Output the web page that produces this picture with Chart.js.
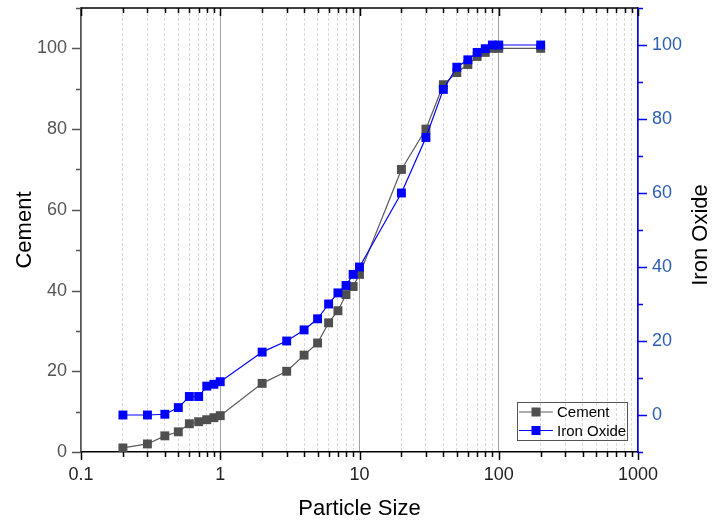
<!DOCTYPE html>
<html>
<head>
<meta charset="utf-8">
<script src="https://cdn.jsdelivr.net/npm/chart.js@4.4.1/dist/chart.umd.min.js"></script>
<style>
  html, body { margin: 0; padding: 0; background: #fff; }
  #wrap { width: 713px; height: 522px; }
</style>
</head>
<body>
<div id="wrap"><canvas id="psdChart" width="713" height="522"></canvas></div>
<script>
// particle size distribution data
const particleSize = [0.2, 0.3, 0.4, 0.5, 0.6, 0.7, 0.8, 0.9, 1, 2, 3, 4, 5, 6, 7, 8, 9, 10, 20, 30, 40, 50, 60, 70, 80, 90, 100, 200];
const cement = [1, 2, 4, 5, 7, 7.5, 8, 8.5, 9, 17, 20, 24, 27, 32, 35, 39, 41, 44, 70, 80, 91, 94, 96, 98, 99, 100, 100, 100];
const ironOxide = [0, 0, 0.2, 2, 5, 5, 7.8, 8.3, 9, 17, 20, 23, 26, 30, 33, 35, 38, 40, 60, 75, 88, 94, 96, 98, 99, 100, 100, 100];

// axis ticks
const decades = [0.1, 1, 10, 100, 1000];
const decadeLabels = ['0.1', '1', '10', '100', '1000'];
const minorSteps = [2, 3, 4, 5, 6, 7, 8, 9];

const FONT = "'Liberation Sans', Arial, sans-serif";
Chart.defaults.font.family = FONT;

// 0.1, 0.2 ... 0.9, 1, 2 ... 1000
const xTickValues = [];
decades.forEach((d, i) => {
  xTickValues.push(d);
  if (i < decades.length - 1) minorSteps.forEach(m => xTickValues.push(+(d * m).toPrecision(6)));
});

function isDecade(v) {
  const l = Math.log10(v);
  return Math.abs(l - Math.round(l)) < 1e-6;
}

function toPoints(ys) {
  return particleSize.map((x, i) => ({ x: x, y: ys[i] }));
}

// keep the plot box fixed: no extra room for half tick labels
function fixBox(w, h) {
  return s => {
    if (w) s.width = w;
    if (h) s.height = h;
    s.paddingTop = 0;
    s.paddingBottom = 0;
    s.paddingLeft = 0;
    s.paddingRight = 0;
  };
}

// tick marks, top frame, right title and legend
const decorations = {
  id: 'decorations',
  afterDraw(chart) {
    const { ctx, chartArea: a } = chart;
    const xs = chart.scales.x, yl = chart.scales.y, yr = chart.scales.y2;
    const line = (x1, y1, x2, y2) => { ctx.beginPath(); ctx.moveTo(x1, y1); ctx.lineTo(x2, y2); ctx.stroke(); };
    ctx.save();
    ctx.lineWidth = 1.5;

    // bottom ticks (outward) and top ticks (inward)
    ctx.strokeStyle = '#000';
    xs.ticks.forEach(t => {
      const px = Math.round(xs.getPixelForValue(t.value)) + 0.5;
      const len = isDecade(t.value) ? 8 : 5;
      line(px, a.bottom, px, a.bottom + len);
      line(px, a.top, px, a.top + len);
    });
    line(a.left, a.top, a.right, a.top);

    // left ticks
    ctx.strokeStyle = '#555';
    yl.ticks.forEach(t => {
      const py = Math.round(yl.getPixelForValue(t.value)) + 0.5;
      const len = t.value % 20 === 0 ? 9 : 5;
      line(a.left - len, py, a.left, py);
    });

    // right ticks
    ctx.strokeStyle = '#0000ff';
    yr.ticks.forEach(t => {
      const py = Math.round(yr.getPixelForValue(t.value)) + 0.5;
      const len = t.value % 20 === 0 ? 9 : 5;
      line(a.right, py, a.right + len, py);
    });

    // right axis title, reading bottom to top
    ctx.save();
    ctx.translate(701, (a.top + a.bottom) / 2 + 5);
    ctx.rotate(-Math.PI / 2);
    ctx.fillStyle = '#000';
    ctx.font = '22px ' + FONT;
    ctx.textAlign = 'center';
    ctx.textBaseline = 'middle';
    ctx.fillText('Iron Oxide', 0, 0);
    ctx.restore();

    // legend box
    const bx = a.right - 121, by = a.bottom - 50, bw = 110, bh = 38;
    ctx.lineWidth = 1;
    ctx.strokeStyle = '#555';
    ctx.strokeRect(bx + 0.5, by + 0.5, bw, bh);
    ctx.font = '15px ' + FONT;
    ctx.textAlign = 'left';
    ctx.textBaseline = 'middle';
    chart.data.datasets.slice().sort((p, q) => q.order - p.order).forEach((ds, i) => {
      const cy = by + 10 + i * 18.5;
      ctx.strokeStyle = ds.borderColor;
      ctx.lineWidth = 1.2;
      line(bx + 2, cy, bx + 36, cy);
      ctx.fillStyle = ds.pointBackgroundColor;
      ctx.fillRect(bx + 14.5, cy - 4.5, 9, 9);
      ctx.fillStyle = '#000';
      ctx.fillText(ds.label, bx + 40, cy + 1);
    });
    ctx.restore();
  }
};

const ctx = document.getElementById('psdChart').getContext('2d');
new Chart(ctx, {
  type: 'line',
  data: {
    datasets: [
      {
        label: 'Iron Oxide',
        data: toPoints(ironOxide),
        yAxisID: 'y2',
        order: 0,
        borderColor: '#0000ff',
        borderWidth: 1.2,
        pointStyle: 'rect',
        pointRadius: 6.3,
        pointBorderWidth: 0,
        pointBackgroundColor: '#0000ff',
        tension: 0
      },
      {
        label: 'Cement',
        data: toPoints(cement),
        yAxisID: 'y',
        order: 1,
        borderColor: '#5a5a5a',
        borderWidth: 1.2,
        pointStyle: 'rect',
        pointRadius: 6.3,
        pointBorderWidth: 0,
        pointBackgroundColor: '#4f4f4f',
        tension: 0
      }
    ]
  },
  options: {
    responsive: false,
    animation: false,
    devicePixelRatio: 1,
    layout: { padding: { top: 8, left: 0, right: 0, bottom: 0 } },
    plugins: {
      legend: { display: false },
      tooltip: { enabled: false }
    },
    events: [],
    scales: {
      x: {
        type: 'logarithmic',
        position: 'bottom',
        min: 0.1,
        max: 1000,
        afterBuildTicks: s => { s.ticks = xTickValues.map(v => ({ value: v, major: isDecade(v) })); },
        afterFit: fixBox(0, 70),
        ticks: {
          autoSkip: false,
          maxRotation: 0,
          padding: 12,
          color: '#222',
          font: { size: 18 },
          callback: (v) => {
            const i = decades.findIndex(d => Math.abs(d - v) < 1e-9);
            return i >= 0 ? decadeLabels[i] : '';
          }
        },
        grid: {
          drawTicks: false,
          lineWidth: 1,
          color: c => (c.tick && isDecade(c.tick.value)) ? '#a3a3a3' : '#d9d9d9'
        },
        border: {
          color: '#000',
          width: 1.5,
          dash: c => (c.tick && !isDecade(c.tick.value)) ? [3, 2] : []
        },
        title: {
          display: true,
          text: 'Particle Size',
          color: '#000',
          font: { size: 22 },
          padding: { top: 0, bottom: 0 }
        }
      },
      y: {
        type: 'linear',
        position: 'left',
        min: 0,
        max: 110,
        afterFit: fixBox(81, 0),
        ticks: {
          stepSize: 10,
          padding: 14,
          color: '#555',
          font: { size: 18 },
          callback: v => (v % 20 === 0 && v <= 100) ? v : ''
        },
        grid: { display: false, drawTicks: false },
        border: { color: '#555', width: 1.5 },
        title: {
          display: true,
          text: 'Cement',
          color: '#000',
          font: { size: 22 },
          padding: { top: 12, bottom: 0 }
        }
      },
      y2: {
        type: 'linear',
        position: 'right',
        min: -10,
        max: 110,
        afterFit: fixBox(75, 0),
        ticks: {
          stepSize: 10,
          padding: 14,
          color: '#2f5fb3',
          font: { size: 18 },
          callback: v => (v % 20 === 0 && v >= 0 && v <= 100) ? v : ''
        },
        grid: { display: false, drawTicks: false },
        border: { color: '#0000ff', width: 1.5 }
      }
    }
  },
  plugins: [decorations]
});
</script>
</body>
</html>
